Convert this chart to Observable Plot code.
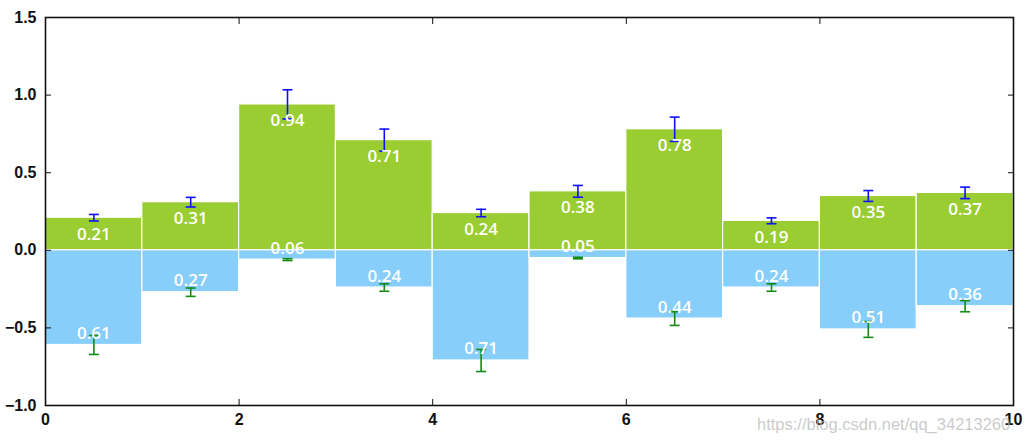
<!DOCTYPE html>
<html>
<head>
<meta charset="utf-8">
<script src="https://cdn.jsdelivr.net/npm/d3@7"></script>
<script src="https://cdn.jsdelivr.net/npm/@observablehq/plot@0.6"></script>
<style>
  body { margin: 0; background: #fff; }
  #wrap { position: relative; width: 1029px; height: 445px; }
  #wm { position: absolute; left: 757px; top: 415px; font: 16.5px "Liberation Sans", Arial, sans-serif;
        color: rgba(185,185,185,0.75); white-space: nowrap; pointer-events: none; }
</style>
</head>
<body>
<div id="wrap"><div id="chart"></div><div id="wm">https://blog.csdn.net/qq_34213260</div></div>
<script>
// bar left edges (each bar spans one unit)
const barStarts = [0, 1, 2, 3, 4, 5, 6, 7, 8, 9];
// upper (positive) series
const upValues = [0.21, 0.31, 0.94, 0.71, 0.24, 0.38, 0.78, 0.19, 0.35, 0.37];
const upErrors = [0.021, 0.031, 0.094, 0.071, 0.024, 0.038, 0.078, 0.019, 0.035, 0.037];
// lower (negative) series, magnitudes
const downValues = [0.61, 0.27, 0.06, 0.24, 0.71, 0.05, 0.44, 0.24, 0.51, 0.36];
const downErrors = [0.061, 0.027, 0.006, 0.024, 0.071, 0.005, 0.044, 0.024, 0.051, 0.036];
// axis ticks
const xTicks = [0, 2, 4, 6, 8, 10];
const yTicks = [-1.0, -0.5, 0.0, 0.5, 1.0, 1.5];

const up = barStarts.map((x, i) => ({x, v: upValues[i], e: upErrors[i]}));
const down = barStarts.map((x, i) => ({x, v: -downValues[i], m: downValues[i], e: downErrors[i]}));
const caps = (rows) => rows.flatMap(d => [{x: d.x, y: d.v - d.e}, {x: d.x, y: d.v + d.e}]);

const capSymbol = {draw(ctx) { ctx.moveTo(-5, 0); ctx.lineTo(5, 0); }};
const mid = d => d.x + 0.5;

const chart = Plot.plot({
  width: 1029,
  height: 445,
  marginLeft: 45,
  marginRight: 16,
  marginTop: 17,
  marginBottom: 40,
  style: {fontFamily: "Liberation Sans, Arial, sans-serif", background: "white"},
  x: {domain: [0, 10], label: null},
  y: {domain: [-1, 1.5], label: null},
  marks: [
    Plot.rectY(up, {x1: "x", x2: d => d.x + 1, y1: 0, y2: "v", fill: "#9acd32", stroke: "white", strokeWidth: 1.2}),
    Plot.rectY(down, {x1: "x", x2: d => d.x + 1, y1: 0, y2: "v", fill: "#87cefa", stroke: "white", strokeWidth: 1.2}),
    Plot.ruleX(up, {x: mid, y1: d => d.v - d.e, y2: d => d.v + d.e, stroke: "#1010ff", strokeWidth: 1.6}),
    Plot.ruleX(down, {x: mid, y1: d => d.v - d.e, y2: d => d.v + d.e, stroke: "#138a13", strokeWidth: 1.6}),
    Plot.dot(caps(up), {x: mid, y: "y", symbol: capSymbol, fill: "none", stroke: "#1010ff", strokeWidth: 1.6}),
    Plot.dot(caps(down), {x: mid, y: "y", symbol: capSymbol, fill: "none", stroke: "#138a13", strokeWidth: 1.6}),
    Plot.text(up, {x: mid, y: "v", text: d => d.v.toFixed(2), fill: "white", fontSize: 17, fontWeight: 600,
      fontFamily: "Open Sans, sans-serif", lineAnchor: "top", dy: 10}),
    Plot.text(down, {x: mid, y: "v", text: d => d.m.toFixed(2), fill: "white", fontSize: 17, fontWeight: 600,
      fontFamily: "Open Sans, sans-serif", lineAnchor: "bottom", dy: -6}),
    Plot.frame({stroke: "#111", strokeWidth: 1.6}),
    // inward ticks on all four sides
    Plot.axisX({anchor: "bottom", ticks: xTicks, tickSize: -6, tickFormat: () => "", stroke: "#111", label: null}),
    Plot.axisX({anchor: "top", ticks: xTicks, tickSize: -6, tickFormat: () => "", stroke: "#111", label: null}),
    Plot.axisY({anchor: "left", ticks: yTicks, tickSize: -6, tickFormat: () => "", stroke: "#111", label: null}),
    Plot.axisY({anchor: "right", ticks: yTicks, tickSize: -6, tickFormat: () => "", stroke: "#111", label: null}),
    // tick labels
    Plot.axisX({anchor: "bottom", ticks: xTicks, tickSize: 0, tickPadding: 8, tickFormat: d3.format("d"),
      fontSize: 16, fontWeight: "bold", fill: "#111", label: null}),
    Plot.axisY({anchor: "left", ticks: yTicks, tickSize: 0, tickPadding: 9, tickFormat: d3.format(".1f"),
      fontSize: 16, fontWeight: "bold", fill: "#111", label: null})
  ]
});
document.getElementById("chart").appendChild(chart);
</script>
</body>
</html>
